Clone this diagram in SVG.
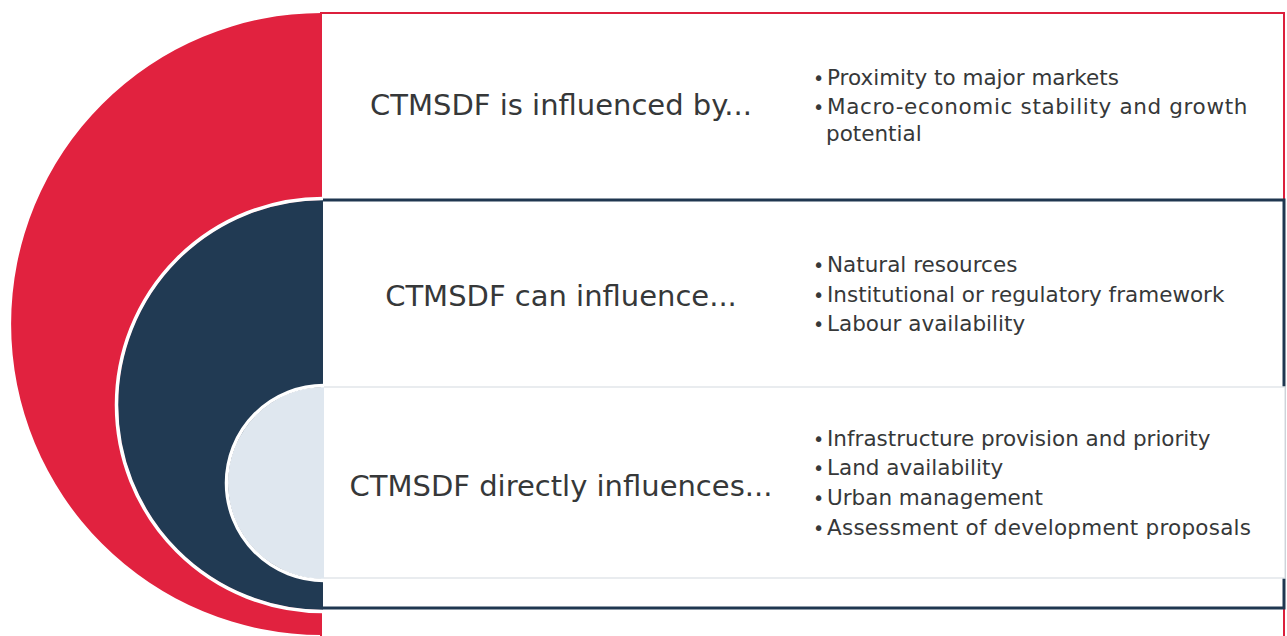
<svg xmlns="http://www.w3.org/2000/svg" width="1287" height="636" viewBox="0 0 1287 636">
  <style>
    .title { font-family: "DejaVu Sans", "Liberation Sans", sans-serif; font-size: 29px; fill: #363839; text-anchor: middle; }
    .item { font-family: "DejaVu Sans", "Liberation Sans", sans-serif; font-size: 21.5px; fill: #363839; }
    .dot { font-size: 19px; }
    .arcline { fill: none; stroke: #ffffff; stroke-width: 3.5; }
  </style>
  <rect width="1287" height="636" fill="#ffffff"/>

  <!-- outer ring: factors that influence the framework -->
  <g id="node-influenced-by">
    <rect x="321" y="13" width="963" height="640" fill="#ffffff" stroke="#dc1f3c" stroke-width="2"/>
    <path d="M322,13 A311,311 0 0 0 322,635 Z" fill="#e1223f"/>
    <text class="title" x="561" y="115">CTMSDF is influenced by...</text>
    <text class="item" x="813" y="85"><tspan class="dot">•</tspan><tspan x="827">Proximity to major markets</tspan></text>
    <text class="item" x="813" y="114"><tspan class="dot">•</tspan><tspan x="827" letter-spacing="0.65">Macro-economic stability and growth</tspan></text>
    <text class="item" x="826" y="141">potential</text>
  </g>

  <!-- middle ring: factors the framework can influence -->
  <g id="node-can-influence">
    <rect x="321" y="200" width="963" height="408" fill="#ffffff" stroke="#1f3750" stroke-width="3"/>
    <path d="M323,200 A205,205 0 0 0 323,610 Z" fill="#213a53"/>
    <path class="arcline" d="M323,198.5 A206.5,206.5 0 0 0 323,611.5"/>
    <text class="title" x="561" y="306">CTMSDF can influence...</text>
    <text class="item" x="813" y="272"><tspan class="dot">•</tspan><tspan x="827">Natural resources</tspan></text>
    <text class="item" x="813" y="302"><tspan class="dot">•</tspan><tspan x="827">Institutional or regulatory framework</tspan></text>
    <text class="item" x="813" y="331"><tspan class="dot">•</tspan><tspan x="827">Labour availability</tspan></text>
  </g>

  <!-- inner core: factors the framework directly influences -->
  <g id="node-directly-influences">
    <rect x="322" y="387" width="963" height="191" fill="#ffffff" stroke="#e2e6ea" stroke-width="1.5"/>
    <path d="M324,387 A96,96 0 0 0 324,579 Z" fill="#dfe7ef"/>
    <path class="arcline" d="M324,385.5 A97.5,97.5 0 0 0 324,580.5"/>
    <text class="title" x="561" y="496">CTMSDF directly influences...</text>
    <text class="item" x="813" y="446"><tspan class="dot">•</tspan><tspan x="827">Infrastructure provision and priority</tspan></text>
    <text class="item" x="813" y="475"><tspan class="dot">•</tspan><tspan x="827">Land availability</tspan></text>
    <text class="item" x="813" y="505"><tspan class="dot">•</tspan><tspan x="827">Urban management</tspan></text>
    <text class="item" x="813" y="535"><tspan class="dot">•</tspan><tspan x="827" letter-spacing="0.25">Assessment of development proposals</tspan></text>
  </g>

  <g id="connectors"/>
</svg>
